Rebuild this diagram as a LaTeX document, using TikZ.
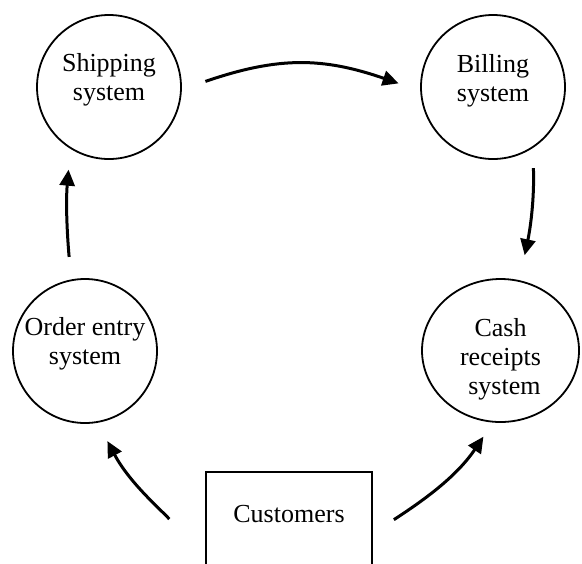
\documentclass[tikz,border=0pt]{standalone}
\usepackage{fontspec}
\setmainfont{Liberation Serif}
\usepackage{tikz}
\usetikzlibrary{arrows.meta,shapes.geometric}

\tikzset{
  process/.style={draw, circle, line width=0.9pt, minimum size=72pt, inner sep=0pt},
  agent/.style={draw, rectangle, line width=0.9pt, minimum width=83pt, minimum height=48pt, inner sep=0pt},
  txt/.style={align=center, inner sep=0pt, font=\fontsize{13}{14.5}\selectfont},
  flow/.style={line width=1.5pt, -{Triangle[length=8pt,width=7.5pt]}}
}

\begin{document}
\begin{tikzpicture}[x=0.5pt, y=-0.5pt]
  \useasboundingbox (0,0) rectangle (582,563);
  % processes
  \node[process] (ship) at (109,87) {};
  \node[process] (bill) at (493,87) {};
  \node[process] (order) at (85,351) {};
  \node[process, ellipse, minimum width=78.5pt, minimum height=71.5pt] (cash) at (500.5,350.5) {};
  % external entity, runs off the page
  \node[agent] (cust) at (289,520) {};
  % texts
  \node[txt] (shiptxt) at ([yshift=3.5pt]ship.center) {Shipping\\system};
  \node[txt] (billtxt) at ([yshift=3pt]bill.center) {Billing\\system};
  \node[txt] (ordertxt) at ([yshift=3.5pt]order.center) {Order entry\\system};
  \node[txt] (cashtxt) at ([yshift=-4.5pt]cash.center) {Cash\\receipts\\\hspace*{0.3em}system};
  \node[txt] (custtxt) at ([yshift=2.75pt]cust.center) {Customers};
  % flows
  \draw[flow, shorten <=12.45pt, shorten >=11.4pt, looseness=1.1] (ship.-2.5) to[out=19, in=161] (bill.183);
  \draw[flow, shorten <=10pt, shorten >=12.75pt] (bill.-57) to[out=-88, in=78] (cash.75.5);
  \draw[flow, shorten <=11.3pt, shorten >=10.45pt] (order.101) to[out=95, in=-95] (ship.-122.4);
  \draw[flow, shorten <=26.2pt, shorten >=10.35pt] (cust.204.5) to[out=133, in=-62] (order.-80);
  \draw[flow, shorten <=12.5pt, shorten >=8.5pt] (cust.-9.2) to[out=33, in=-124] (cash.-96);
\end{tikzpicture}
\end{document}
